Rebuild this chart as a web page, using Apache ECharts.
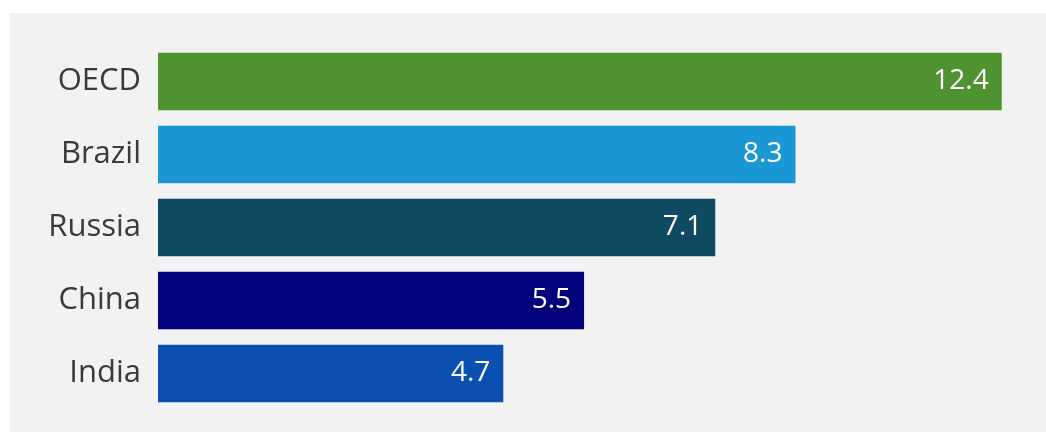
<!DOCTYPE html>
<html>
<head>
<meta charset="utf-8">
<script src="https://cdn.jsdelivr.net/npm/echarts@6/dist/echarts.min.js"></script>
<style>
html,body{margin:0;padding:0;background:#ffffff;}
#chart{width:1046px;height:432px;}
</style>
</head>
<body>
<div id="chart"></div>
<script>
const categories = ['OECD', 'Brazil', 'Russia', 'China', 'India'];
const values = [12.4, 8.3, 7.1, 5.5, 4.7];
const barColors = ['#4e9330', '#1a98d5', '#0e4a62', '#02027c', '#0a50b0'];

const chart = echarts.init(document.getElementById('chart'), null, {renderer: 'canvas'});
chart.setOption({
  backgroundColor: '#ffffff',
  animation: false,
  graphic: [{
    type: 'rect', z: -10, silent: true,
    shape: {x: 10, y: 13, width: 1036, height: 419},
    style: {fill: '#f2f2f2'}
  }],
  grid: {left: 158, right: 20, top: 45, bottom: 22, containLabel: false},
  xAxis: {
    type: 'log', logBase: 10, min: 2.4, max: 13, show: false,
    splitLine: {show: false}
  },
  yAxis: {
    type: 'category', data: categories, inverse: true,
    axisLine: {show: false}, axisTick: {show: false},
    axisLabel: {
      fontSize: 31, color: '#3a3a3a', margin: 17,
      fontFamily: '"Open Sans", sans-serif'
    }
  },
  series: [{
    type: 'bar',
    clip: true,
    barCategoryGap: '21%',
    data: values.map((v, i) => ({value: v, itemStyle: {color: barColors[i]}})),
    label: {
      show: true, position: 'insideRight', distance: 13,
      color: '#ffffff', fontSize: 28,
      fontFamily: '"Open Sans", sans-serif',
      formatter: p => p.value.toFixed(1)
    }
  }]
});
</script>
</body>
</html>
